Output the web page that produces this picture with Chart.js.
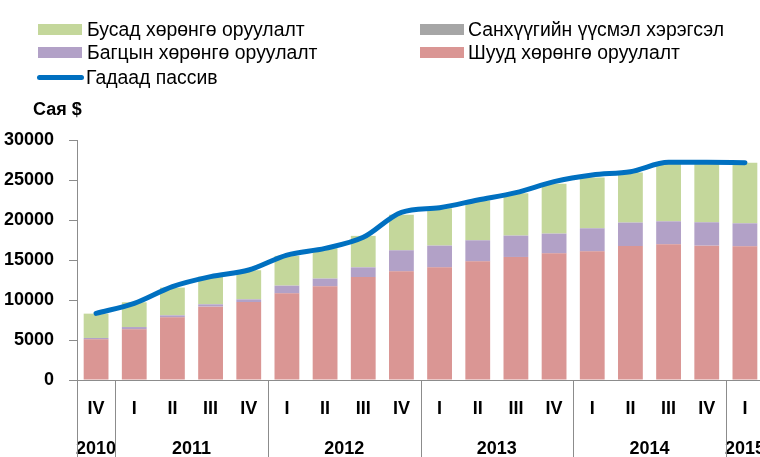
<!DOCTYPE html>
<html><head><meta charset="utf-8">
<script src="https://cdn.jsdelivr.net/npm/chart.js@4.4.1/dist/chart.umd.min.js"></script>
<style>
html,body{margin:0;padding:0;background:#fff;overflow:hidden;width:760px;height:457px;}
#wrap{position:absolute;left:0;top:0;width:764px;height:457px;}
.lg{position:absolute;font-family:"Liberation Sans",Arial,sans-serif;font-size:20px;color:#000;white-space:nowrap;line-height:20px;transform:scaleX(0.97);transform-origin:0 0;}
.box{position:absolute;width:44px;height:11px;}
.unit{position:absolute;left:33px;top:99px;font-family:"Liberation Sans",Arial,sans-serif;font-weight:bold;font-size:18px;line-height:20px;}
</style></head>
<body>
<div id="wrap"><canvas id="c" width="764" height="457"></canvas></div>
<div id="legend"></div>
<div class="unit">Сая $</div>
<script>
const quarters = ["IV","I","II","III","IV","I","II","III","IV","I","II","III","IV","I","II","III","IV","I"];
const years = [{label:"2010",from:0,to:0},{label:"2011",from:1,to:4},{label:"2012",from:5,to:8},{label:"2013",from:9,to:12},{label:"2014",from:13,to:16},{label:"2015",from:17,to:17}];
const directInv = [5080,6330,7830,9170,9750,10830,11710,12870,13580,14080,14830,15380,15830,16080,16750,16960,16790,16710];
const portfolioInv = [170,290,250,290,330,960,960,1210,2630,2710,2630,2660,2460,2880,2920,2870,2920,2870];
const derivatives = [5,5,10,10,10,15,15,15,20,20,20,20,20,20,20,20,20,20];
const otherInv = [3040,3090,3460,3460,3630,3710,3790,3920,4415,4670,4960,5290,6210,6330,6250,7250,7370,7545];
const liabilities = [8330,9580,11670,12920,13750,15620,16460,17830,20960,21540,22500,23420,24790,25625,26040,27210,27210,27170];
const yTicks = [0,5000,10000,15000,20000,25000,30000];

const names = {other:"Бусад хөрөнгө оруулалт",deriv:"Санхүүгийн үүсмэл хэрэгсэл",port:"Багцын хөрөнгө оруулалт",direct:"Шууд хөрөнгө оруулалт",liab:"Гадаад пассив"};
const colors = {other:"#C4D79B",deriv:"#A6A6A6",port:"#B2A1C7",direct:"#DA9694",liab:"#0070C0"};

const legendItems = [
 {k:"other",x:38,tx:87,y:28.5},{k:"deriv",x:420,tx:468,y:28.5},
 {k:"port",x:38,tx:87,y:51.5},{k:"direct",x:420,tx:468,y:51.5},
 {k:"liab",x:37,tx:86,y:76.5,line:true}
];
const lg = document.getElementById('legend');
legendItems.forEach(it=>{
  const b=document.createElement('div');
  b.className='box';
  if(it.line){b.style.cssText=`position:absolute;left:${it.x}px;top:${it.y-2}px;width:47px;height:5px;border-radius:2.5px;background:${colors[it.k]}`;}
  else{b.style.left=it.x+'px';b.style.top=(it.y-5)+'px';b.style.background=colors[it.k];}
  lg.appendChild(b);
  const t=document.createElement('div');
  t.className='lg';t.textContent=names[it.k];
  t.style.left=it.tx+'px';t.style.top=(it.y-10)+'px';
  lg.appendChild(t);
});

const labelFont = 'bold 18px "Liberation Sans",Arial,sans-serif';
const axisPlugin = {
  id:'axisLabels',
  afterDraw(chart){
    const ctx=chart.ctx, x=chart.scales.x, ca=chart.chartArea;
    ctx.save();
    ctx.fillStyle='#000';ctx.font=labelFont;ctx.textAlign='center';ctx.textBaseline='middle';
    quarters.forEach((q,i)=>ctx.fillText(q,x.getPixelForValue(i),409));
    years.forEach(y=>{
      const c=(x.getPixelForValue(y.from)+x.getPixelForValue(y.to))/2;
      ctx.fillText(y.label,c,449);
    });
    ctx.strokeStyle='#8c8c8c';ctx.lineWidth=1;
    const step=x.getPixelForValue(1)-x.getPixelForValue(0);
    const bounds=[ca.left];
    years.forEach(y=>bounds.push(x.getPixelForValue(y.to)+step/2));
    bounds.forEach(b=>{
      const bx=Math.round(b)+0.5;
      ctx.beginPath();ctx.moveTo(bx,ca.bottom);ctx.lineTo(bx,457);ctx.stroke();
    });
    ctx.restore();
  }
};

new Chart(document.getElementById('c'),{
  data:{
    labels:quarters,
    datasets:[
      {type:'line',label:names.liab,data:liabilities,borderColor:colors.liab,borderWidth:5,pointRadius:0,tension:0.4,cubicInterpolationMode:'monotone',borderCapStyle:'round',order:0,clip:false},
      {type:'bar',label:names.direct,data:directInv,backgroundColor:colors.direct,stack:'s',order:1},
      {type:'bar',label:names.port,data:portfolioInv,backgroundColor:colors.port,stack:'s',order:1},
      {type:'bar',label:names.deriv,data:derivatives,backgroundColor:colors.deriv,stack:'s',order:1},
      {type:'bar',label:names.other,data:otherInv,backgroundColor:colors.other,stack:'s',order:1}
    ]
  },
  options:{
    responsive:false,animation:false,
    layout:{padding:{top:140,left:0,right:0,bottom:0}},
    datasets:{bar:{categoryPercentage:1,barPercentage:0.65,borderWidth:0}},
    plugins:{legend:{display:false},tooltip:{enabled:false}},
    scales:{
      x:{stacked:true,offset:true,ticks:{display:false},grid:{display:false,drawTicks:false},border:{display:true,color:'#8c8c8c',width:1},
         afterFit(s){s.height=77;}},
      y:{stacked:true,min:0,max:30000,
         afterBuildTicks(s){s.ticks=yTicks.map(v=>({value:v}));},
         ticks:{color:'#000',font:{family:'"Liberation Sans","Arial",sans-serif',weight:'bold',size:18},padding:15,callback:(v)=>String(v)},
         grid:{drawOnChartArea:false,drawTicks:true,tickLength:8,color:'#8c8c8c'},
         border:{display:true,color:'#8c8c8c',width:1},
         afterFit(s){s.width=77;}}
    }
  },
  plugins:[axisPlugin]
});
</script>
</body></html>
